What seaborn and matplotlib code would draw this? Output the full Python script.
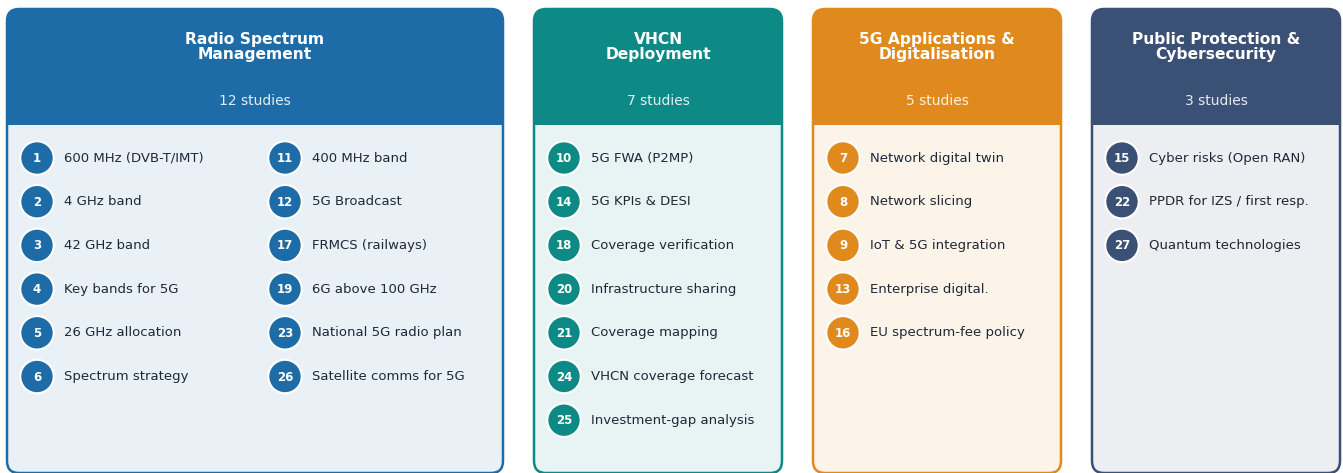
import pandas as pd
import matplotlib.pyplot as plt
import seaborn as sns
from matplotlib.patches import FancyBboxPatch, Rectangle

# ==============================================================================
# DATA
# ==============================================================================
CATEGORIES = ["Radio Spectrum\nManagement", "VHCN\nDeployment",
              "5G Applications &\nDigitalisation", "Public Protection &\nCybersecurity"]
STUDY_COUNTS = [12, 7, 5, 3]
COLORS = ["#1d6ca8", "#0e8a86", "#e08a1e", "#3b5075"]

SPECTRUM_IDS = [1, 2, 3, 4, 5, 6, 11, 12, 17, 19, 23, 26]
SPECTRUM_LABELS = ["600 MHz (DVB-T/IMT)", "4 GHz band", "42 GHz band", "Key bands for 5G",
                   "26 GHz allocation", "Spectrum strategy", "400 MHz band", "5G Broadcast",
                   "FRMCS (railways)", "6G above 100 GHz", "National 5G radio plan",
                   "Satellite comms for 5G"]
VHCN_IDS = [10, 14, 18, 20, 21, 24, 25]
VHCN_LABELS = ["5G FWA (P2MP)", "5G KPIs & DESI", "Coverage verification",
               "Infrastructure sharing", "Coverage mapping", "VHCN coverage forecast",
               "Investment-gap analysis"]
APPS_IDS = [7, 8, 9, 13, 16]
APPS_LABELS = ["Network digital twin", "Network slicing", "IoT & 5G integration",
               "Enterprise digital.", "EU spectrum-fee policy"]
SECURITY_IDS = [15, 22, 27]
SECURITY_LABELS = ["Cyber risks (Open RAN)", "PPDR for IZS / first resp.", "Quantum technologies"]

STUDY_IDS = [SPECTRUM_IDS, VHCN_IDS, APPS_IDS, SECURITY_IDS]
STUDY_LABELS = [SPECTRUM_LABELS, VHCN_LABELS, APPS_LABELS, SECURITY_LABELS]
N_COLS = [2, 1, 1, 1]

# ==============================================================================
# LAYOUT (pixel units)
# ==============================================================================
W, H = 1343, 473
COL_W, GAP, LEFT = 248, 31, 7
TOP, HEAD_BOTTOM, BOTTOM = 9, 125, 473
ROW0, ROW_STEP, PER_COL = 158, 43.7, 6
TEXT_DARK = "#1e2838"

sns.set_theme(style="white")
plt.rcParams['font.family'] = ['DejaVu Sans']

fig = plt.figure(figsize=(W / 100, H / 100), dpi=100)
ax = fig.add_axes([0, 0, 1, 1])

rows = []
x0 = LEFT
for ci, cat in enumerate(CATEGORIES):
    color = COLORS[ci]
    width = COL_W * N_COLS[ci]
    # card body
    ax.add_patch(FancyBboxPatch((x0, TOP), width, BOTTOM - TOP,
                                boxstyle="round,pad=0,rounding_size=12",
                                facecolor=sns.blend_palette(["white", color], 11)[1],
                                edgecolor=color, linewidth=1.8, zorder=1))
    # header
    ax.add_patch(FancyBboxPatch((x0, TOP), width, HEAD_BOTTOM - TOP,
                                boxstyle="round,pad=0,rounding_size=12",
                                facecolor=color, edgecolor="none", zorder=2))
    ax.add_patch(Rectangle((x0, HEAD_BOTTOM - 20), width, 20,
                           facecolor=color, edgecolor="none", zorder=2))
    cx = x0 + width / 2
    ax.text(cx, 47, cat, ha="center", va="center", color="white", fontsize=11.2,
            fontweight="bold", linespacing=0.95, zorder=3)
    ax.text(cx, 101, f"{STUDY_COUNTS[ci]} studies", ha="center", va="center",
            color="white", alpha=0.88, fontsize=10, zorder=3)

    for k, (sid, label) in enumerate(zip(STUDY_IDS[ci], STUDY_LABELS[ci])):
        col, row = divmod(k, PER_COL) if N_COLS[ci] > 1 else (0, k)
        px = x0 + col * COL_W + 30
        py = ROW0 + row * ROW_STEP
        rows.append({"x": px, "y": py, "cat": cat, "id": sid})
        ax.text(px, py + 0.5, str(sid), ha="center", va="center", color="white",
                fontsize=8.5, fontweight="bold", zorder=5)
        ax.text(px + 27, py, label, ha="left", va="center", color=TEXT_DARK,
                fontsize=9.5, zorder=5)
    x0 += width + GAP

df = pd.DataFrame(rows)
sns.scatterplot(data=df, x="x", y="y", hue="cat", palette=COLORS, hue_order=CATEGORIES,
                s=580, edgecolor="white", linewidth=1.5, legend=False, ax=ax, zorder=4)
ax.set_xlim(0, W)
ax.set_ylim(H, 0)
ax.axis("off")

fig.savefig("out.png", dpi=100)
